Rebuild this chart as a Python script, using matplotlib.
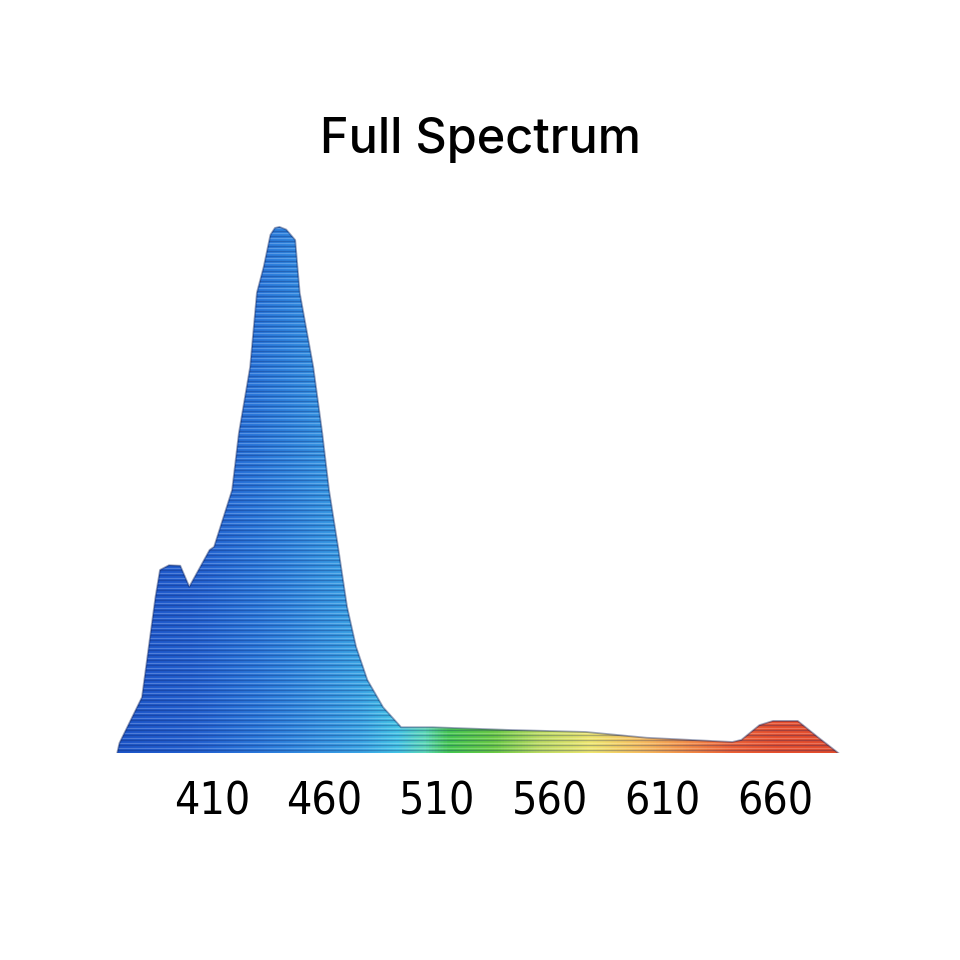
import numpy as np
import matplotlib
matplotlib.use("Agg")
from matplotlib import pyplot as plt
from matplotlib.colors import LinearSegmentedColormap

# wavelength (nm) and relative intensity (%)
wavelength = [368, 369, 379, 385, 387, 391, 396, 400, 409, 411, 419, 422, 427, 430,
              433, 436, 438, 440, 443, 447, 448, 449, 455, 459, 462, 466, 470, 474, 479, 486,
              494, 508, 541, 576, 603, 641, 645, 653, 659, 670, 679, 688]
intensity = [0, 1.9, 10.6, 29.7, 34.8, 35.7, 35.6, 31.6, 38.6, 39.2, 50.0, 60.8, 73.4, 87.5,
             92.4, 98.5, 99.8, 100, 99.5, 97.5, 92.4, 87.5, 73.4, 60.8, 50.0, 39.2, 27.8, 20.2,
             13.9, 8.7, 4.9, 4.9, 4.4, 4.0, 2.9, 2.1, 2.5, 5.3, 6.1, 6.1, 3.0, 0]

tick_nm = [410, 460, 510, 560, 610, 660]
tick_labels = ["410", "460", "510", "560", "610", "660"]
title = "Full Spectrum"

# colour stops along the wavelength axis
stop_nm = [360, 400, 430, 455, 475, 492, 504, 515, 535, 555, 578, 600, 620, 640, 660, 700]
stop_col = ["#1c54c8", "#225fd0", "#2a78dc", "#3490e2", "#3aa4e6", "#44c4e6", "#5cd8b8",
            "#46c850", "#6acb44", "#bcdc62", "#f0e870", "#f8c060", "#f49048", "#ee6236",
            "#e8502e", "#e24a2a"]

xmin, xmax = 360.3, 697.7
ymax = 105.1

fig = plt.figure(figsize=(9.6, 9.6), dpi=100)
ax = fig.add_axes([0.104, 0.2156, 0.792, 0.576])
ax.set_xlim(xmin, xmax)
ax.set_ylim(0, ymax)

pos = [(v - stop_nm[0]) / (stop_nm[-1] - stop_nm[0]) for v in stop_nm]
cmap = LinearSegmentedColormap.from_list("spec", list(zip(pos, stop_col)))

fill = ax.fill_between(wavelength, 0, intensity, color="none", lw=0)
clip = fill.get_paths()[0]

grad = np.linspace(0, 1, 800).reshape(1, -1)
img = ax.imshow(grad, cmap=cmap, aspect="auto", extent=[stop_nm[0], stop_nm[-1], 0, ymax],
                interpolation="bilinear", zorder=1)
img.set_clip_path(clip, transform=ax.transData)

# horizontal stripes
ys = np.arange(0.5, 101, 0.95)
dark = ax.hlines(ys, xmin, xmax, colors="#0a1e60", alpha=0.3, lw=1.0, zorder=2)
dark.set_clip_path(clip, transform=ax.transData)
light = ax.hlines(ys + 0.45, xmin, xmax, colors="white", alpha=0.22, lw=0.8, zorder=2)
light.set_clip_path(clip, transform=ax.transData)

ax.plot(wavelength, intensity, color="#0b1f5a", alpha=0.4, lw=1.3, zorder=3)

ax.set_xticks(tick_nm)
ax.set_xticklabels(tick_labels, family=["Liberation Sans Narrow", "DejaVu Sans"],
                   fontstretch="condensed", fontsize=32)
ax.tick_params(axis="x", length=0, pad=20)
ax.set_yticks([])
for s in ax.spines.values():
    s.set_visible(False)

fig.text(0.5, 0.854, title, ha="center", va="center", fontsize=35,
         family=["Inter", "DejaVu Sans"], fontweight="medium")

fig.savefig("out.png", dpi=100, facecolor="white")
